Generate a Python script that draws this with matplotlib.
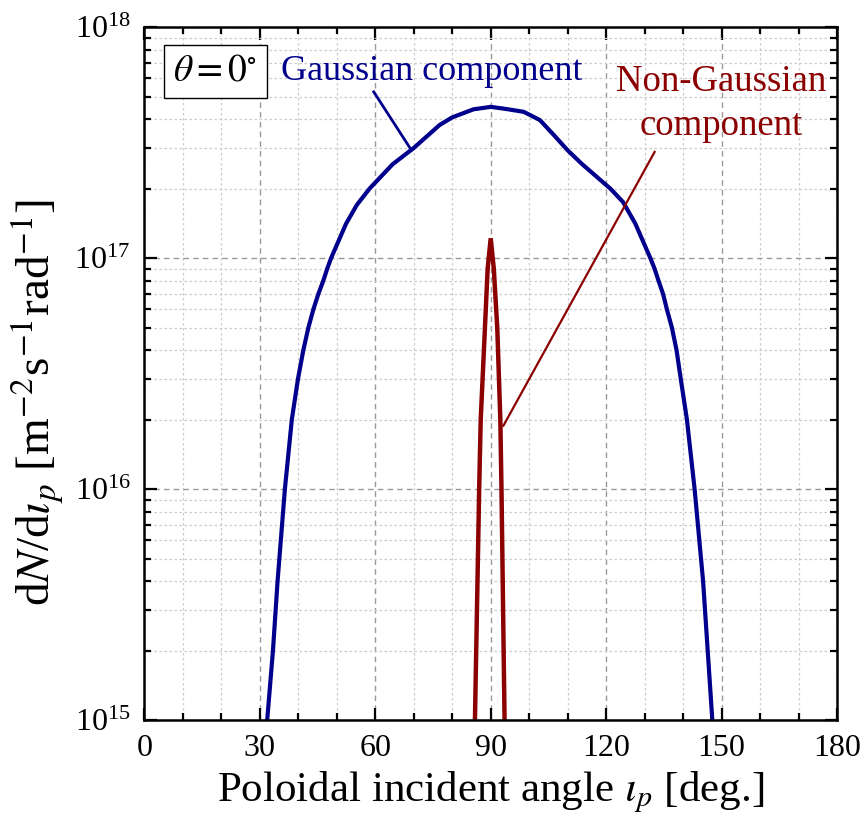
import matplotlib
matplotlib.use('Agg')
import matplotlib.pyplot as plt
from matplotlib.ticker import MultipleLocator, LogLocator, NullFormatter

plt.rcParams['font.family'] = ['Liberation Serif', 'DejaVu Serif']
plt.rcParams['mathtext.fontset'] = 'stix'

# Gaussian component
gauss_x = [31.9, 33.4, 34.6, 36.5, 38.3, 39.9, 41.3, 42.6, 43.9, 45.2, 46.5, 47.5,
           48.5, 52.4, 55.2, 58.5, 64.5, 70.0, 76.7, 80.0, 85.5, 90.0, 94.2, 98.6,
           102.8, 106.5, 110.0, 113.8, 121.1, 124.4, 127.6, 131.5, 132.6, 133.6,
           134.8, 135.8, 137.1, 138.3, 139.4, 141.0, 143.0, 145.2, 146.4, 147.6]
gauss_y = [1e15, 2e15, 4e15, 1e16, 2e16, 3e16, 4e16, 5e16, 6e16, 7e16, 8e16, 9e16,
           1e17, 1.41e17, 1.7e17, 2e17, 2.55e17, 3.0e17, 3.77e17, 4.07e17, 4.41e17,
           4.52e17, 4.42e17, 4.30e17, 3.96e17, 3.4e17, 2.93e17, 2.55e17, 2e17,
           1.75e17, 1.41e17, 1e17, 9e16, 8e16, 7e16, 6e16, 5e16, 4e16, 3e16, 2e16,
           1e16, 4e15, 2e15, 1e15]

# Non-Gaussian component
ng_x = [85.9, 87.0, 87.4, 88.5, 89.2, 90.0, 90.8, 91.7, 92.5, 92.8, 93.6]
ng_y = [1e15, 1e16, 2e16, 5e16, 9e16, 1.22e17, 9e16, 5e16, 2e16, 1e16, 1e15]

blue = '#00008c'
red = '#8b0000'

fig = plt.figure(figsize=(8.65, 8.24), dpi=100)
ax = fig.add_axes([0.167, 0.126, 0.8006, 0.841])

ax.plot(gauss_x, gauss_y, color=blue, lw=3.0, solid_joinstyle='round')
ax.plot(ng_x, ng_y, color=red, lw=3.2, solid_joinstyle='miter')

ax.set_yscale('log')
ax.set_xlim(0, 180)
ax.set_ylim(1e15, 1e18)
ax.xaxis.set_major_locator(MultipleLocator(30))
ax.xaxis.set_minor_locator(MultipleLocator(10))
ax.yaxis.set_major_locator(LogLocator(base=10, numticks=10))
ax.yaxis.set_minor_locator(LogLocator(base=10, subs=range(2, 10), numticks=20))
ax.yaxis.set_minor_formatter(NullFormatter())

ax.grid(which='major', color='#999999', ls=(0, (4, 3)), lw=1.0)
ax.grid(which='minor', color='#cccccc', ls=(0, (2, 2)), lw=0.9)
ax.set_axisbelow(True)

for s in ax.spines.values():
    s.set_linewidth(1.8)
ax.tick_params(which='both', direction='in', top=True, right=True, width=1.6)
ax.tick_params(which='major', length=9, labelsize=23, pad=10)
ax.tick_params(which='minor', length=5)

ax.set_xlabel(r'Poloidal incident angle $\iota_{p}$ [deg.]', fontsize=31, labelpad=5)
ax.set_ylabel(r'd$N$/d$\iota_{p}$ [m$^{-2}$s$^{-1}$rad$^{-1}$]', fontsize=34)
ax.yaxis.set_label_coords(-0.113, 0.459)

ax.text(0.1025, 0.936, r'$\theta = 0^{\circ}$', transform=ax.transAxes, fontsize=27,
        ha='center', va='center',
        bbox=dict(boxstyle='square,pad=0.25', fc='white', ec='black', lw=1.0))

ax.text(74.7, 10**17.81, 'Gaussian component', color=blue, fontsize=26,
        ha='center', va='center')
ax.plot([59.6, 69.1], [10**17.72, 10**17.475], color=blue, lw=2.0)

ax.text(150, 10**17.667, 'Non-Gaussian\ncomponent', color=red, fontsize=26.5,
        ha='center', va='center', linespacing=1.35)
ax.plot([132.6, 93.3], [10**17.46, 10**16.275], color=red, lw=1.6)

fig.savefig('out.png', dpi=100)
